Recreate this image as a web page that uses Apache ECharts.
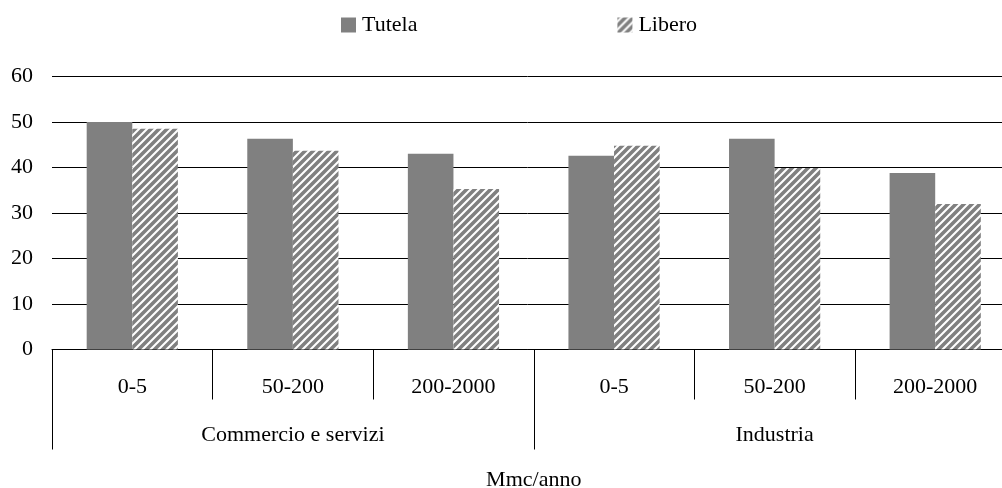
<!DOCTYPE html>
<html>
<head>
<meta charset="utf-8">
<script src="https://cdn.jsdelivr.net/npm/echarts@6/dist/echarts.min.js"></script>
<style>
html,body{margin:0;padding:0;background:#fff;}
#chart{width:1002px;height:488px;}
</style>
</head>
<body>
<div id="chart"></div>
<script>
var sizeBands = ['0-5', '50-200', '200-2000', '0-5', '50-200', '200-2000'];
var sectors = ['Commercio e servizi', 'Industria'];
var tutela = [50.0, 46.3, 43.0, 42.6, 46.3, 38.8];
var libero = [48.5, 43.7, 35.3, 44.8, 39.9, 32.0];
var yTicks = [0, 10, 20, 30, 40, 50, 60];
var axisTitle = 'Mmc/anno';

function makeHatch() {
  var s = 8;
  var c = document.createElement('canvas');
  c.width = s; c.height = s;
  var ctx = c.getContext('2d');
  ctx.fillStyle = '#ffffff';
  ctx.fillRect(0, 0, s, s);
  ctx.strokeStyle = '#808080';
  ctx.lineWidth = 3.6;
  ctx.lineCap = 'square';
  for (var k = -1; k <= 1; k++) {
    ctx.beginPath();
    ctx.moveTo(k * s - 1, s + 1);
    ctx.lineTo(k * s + s + 1, -1);
    ctx.stroke();
  }
  return c;
}
var hatch = { image: makeHatch(), repeat: 'repeat' };

var font = 'Liberation Serif';
var fs = 22;
var chart = echarts.init(document.getElementById('chart'), null, { renderer: 'canvas' });
chart.setOption({
  animation: false,
  backgroundColor: '#fff',
  textStyle: { fontFamily: font, color: '#000' },
  legend: {
    top: 14,
    left: 341,
    padding: 0,
    itemWidth: 15,
    itemHeight: 15,
    itemGap: 200,
    icon: 'rect',
    textStyle: { fontFamily: font, fontSize: fs, color: '#000', padding: [0, 0, 0, 1] },
    data: ['Tutela', 'Libero']
  },
  grid: { left: 52, width: 963.5, top: 76.5, height: 273, containLabel: false, outerBoundsMode: 'none' },
  xAxis: [
    {
      type: 'category',
      data: sizeBands,
      position: 'bottom',
      axisLine: { show: true, lineStyle: { color: '#000', width: 1 } },
      axisTick: { show: true, interval: 0, length: 50, lineStyle: { color: '#000' } },
      axisLabel: { interval: 0, margin: 27, fontFamily: font, fontSize: fs, color: '#000' },
      name: axisTitle,
      nameLocation: 'middle',
      nameGap: 120,
      nameTextStyle: { fontFamily: font, fontSize: fs, color: '#000', align: 'center' }
    },
    {
      type: 'category',
      data: sectors,
      position: 'bottom',
      axisLine: { show: false },
      axisTick: { show: true, interval: 0, length: 100, lineStyle: { color: '#000' } },
      axisLabel: { interval: 0, margin: 75, fontFamily: font, fontSize: fs, color: '#000' }
    }
  ],
  yAxis: {
    type: 'value',
    min: yTicks[0],
    max: yTicks[yTicks.length - 1],
    interval: 10,
    axisLine: { show: false },
    axisTick: { show: false },
    axisLabel: { margin: 19, fontFamily: font, fontSize: fs, color: '#000' },
    splitLine: { show: true, lineStyle: { color: '#000', width: 1 } }
  },
  series: [
    {
      name: 'Tutela',
      type: 'bar',
      xAxisIndex: 0,
      data: tutela,
      barWidth: '28.4%',
      barGap: '0%',
      itemStyle: { color: '#808080' }
    },
    {
      name: 'Libero',
      type: 'bar',
      xAxisIndex: 0,
      data: libero,
      barWidth: '28.4%',
      barGap: '0%',
      itemStyle: { color: hatch }
    }
  ]
});
</script>
</body>
</html>
